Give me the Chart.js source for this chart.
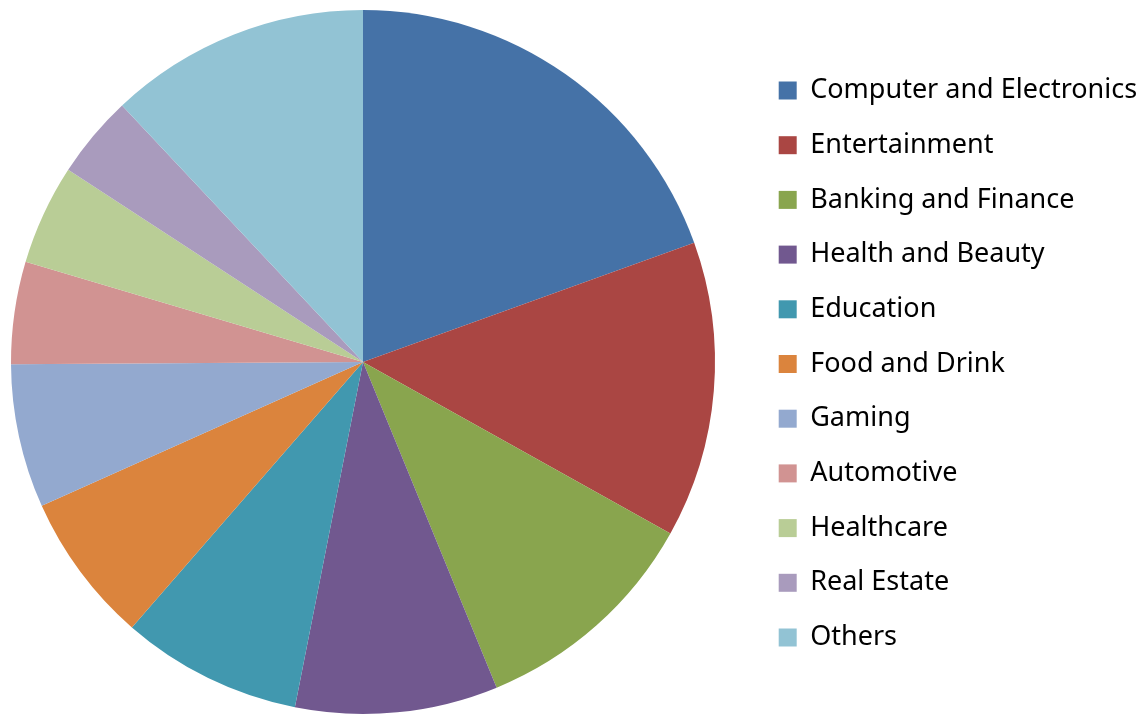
<!DOCTYPE html>
<html>
<head>
<meta charset="utf-8">
<script src="https://cdn.jsdelivr.net/npm/chart.js@4"></script>
<style>
  html, body { margin: 0; padding: 0; background: #fff; }
  #wrap { width: 1148px; height: 715px; }
</style>
</head>
<body>
<div id="wrap"><canvas id="myChart" width="1148" height="715"></canvas></div>
<script>
const categories = [
    'Computer and Electronics',
    'Entertainment',
    'Banking and Finance',
    'Health and Beauty',
    'Education',
    'Food and Drink',
    'Gaming',
    'Automotive',
    'Healthcare',
    'Real Estate',
    'Others'
];
const shares = [19.5, 13.6, 10.7, 9.3, 8.3, 6.9, 6.6, 4.7, 4.6, 3.8, 12.0];
const colors = ['#4572a7', '#aa4643', '#89a54e', '#71588f', '#4198af', '#db843d',
                '#93a9cf', '#d19392', '#b9cd96', '#a99bbd', '#92c3d4'];

// reserve a wide column for the legend, then push its items right and down a bit
const legendColumn = {
    id: 'legendColumn',
    beforeInit(chart) {
        const fit = chart.legend.fit;
        chart.legend.fit = function () {
            fit.call(this);
            this.width = 422;
        };
    },
    afterLayout(chart) {
        chart.legend.left += 25;
        chart.legend.right += 25;
        chart.legend.top += 2;
        chart.legend.bottom += 2;
    }
};

const ctx = document.getElementById('myChart').getContext('2d');
const myPieChart = new Chart(ctx, {
    type: 'pie',
    data: {
        labels: categories,
        datasets: [{
            data: shares,
            backgroundColor: colors,
            borderWidth: 0
        }]
    },
    options: {
        responsive: false,
        animation: false,
        layout: { padding: { left: 0, top: 10, bottom: 1, right: 0 } },
        plugins: {
            tooltip: { enabled: false },
            legend: {
                position: 'right',
                labels: {
                    boxWidth: 18,
                    boxHeight: 18,
                    padding: 27.7,
                    color: '#000',
                    font: { family: '"Noto Sans"', size: 27 }
                }
            }
        }
    },
    plugins: [legendColumn]
});
</script>
</body>
</html>
